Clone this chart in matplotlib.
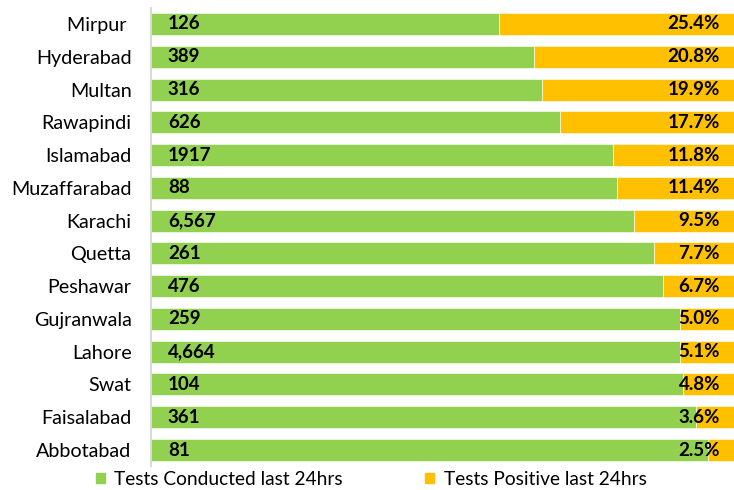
import numpy as np
import matplotlib.pyplot as plt
from matplotlib.patches import Patch

cities = ['Mirpur ', 'Hyderabad', 'Multan', 'Rawapindi', 'Islamabad', 'Muzaffarabad',
          'Karachi', 'Quetta', 'Peshawar', 'Gujranwala', 'Lahore', 'Swat',
          'Faisalabad', 'Abbotabad']
tests_labels = ['126', '389', '316', '626', '1917', '88', '6,567', '261', '476',
                '259', '4,664', '104', '361', '81']
positive_labels = ['25.4%', '20.8%', '19.9%', '17.7%', '11.8%', '11.4%', '9.5%',
                   '7.7%', '6.7%', '5.0%', '5.1%', '4.8%', '3.6%', '2.5%']
# share of each bar
conducted_share = [59.7, 65.7, 67.1, 70.2, 79.3, 80.0, 82.9, 86.2, 87.8,
                   90.7, 90.7, 91.3, 93.4, 95.6]
positive_share = [100 - v for v in conducted_share]

GREEN = '#92D050'
ORANGE = '#FFC000'

plt.rcParams['font.family'] = ['Lato', 'DejaVu Sans']

fig = plt.figure(figsize=(7.34, 4.9), dpi=100)
ax = fig.add_axes([151 / 734, 23.6 / 490, 583 / 734, 458.8 / 490])

y = np.arange(len(cities))
ax.barh(y, conducted_share, height=0.67, color=GREEN, edgecolor='white', linewidth=0.4)
ax.barh(y, positive_share, left=conducted_share, height=0.67, color=ORANGE,
        edgecolor='white', linewidth=0.4)

for i in range(len(cities)):
    ax.text(2.9, y[i], tests_labels[i], ha='left', va='center', fontsize=13.5,
            fontweight='bold', color='black')
    ax.text(97.6, y[i], positive_labels[i], ha='right', va='center', fontsize=13.5,
            fontweight='bold', color='black')

ax.set_xlim(0, 100)
ax.set_ylim(len(cities) - 0.5, -0.5)
ax.set_yticks(y)
ax.set_yticklabels(cities, fontsize=14.2)
ax.tick_params(axis='y', length=0, pad=14)
ax.set_xticks([])
for s in ['top', 'right', 'bottom']:
    ax.spines[s].set_visible(False)
ax.spines['left'].set_color('#D9D9D9')
ax.spines['left'].set_linewidth(1.5)

handles = [Patch(color=GREEN, label='Tests Conducted last 24hrs'),
           Patch(color=ORANGE, label='Tests Positive last 24hrs')]
fig.legend(handles=handles, loc='center', bbox_to_anchor=(0.506, 0.022), ncol=2,
           frameon=False, fontsize=13.8, handlelength=0.45, handleheight=0.45,
           handletextpad=0.5, columnspacing=4.3)

fig.savefig('out.png', dpi=100)
